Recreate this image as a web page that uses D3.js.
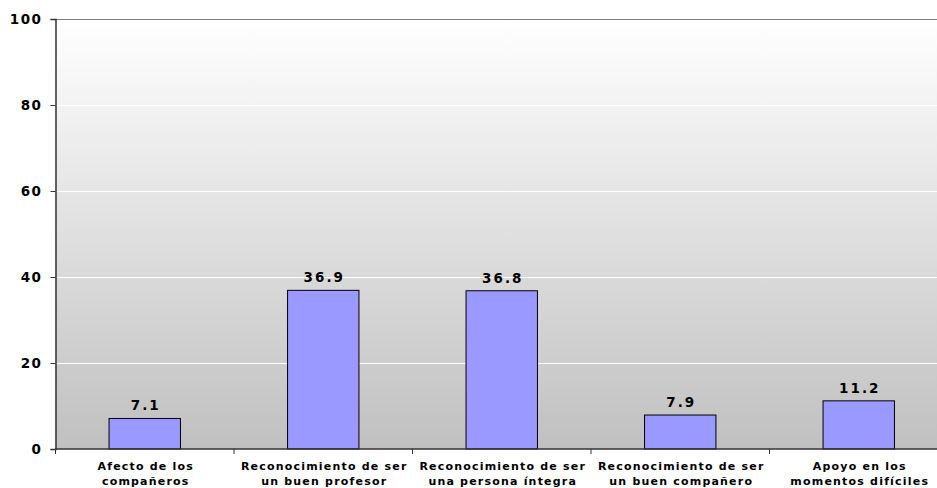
<!DOCTYPE html>
<html><head><meta charset="utf-8">
<script src="https://cdn.jsdelivr.net/npm/d3@7"></script>
<style>body{margin:0;background:#fff}svg{display:block}</style>
</head><body>
<svg id="c" width="937" height="488"></svg>
<script>
const categories = [
  ["Afecto de los", "compañeros"],
  ["Reconocimiento de ser", "un buen profesor"],
  ["Reconocimiento de ser", "una persona íntegra"],
  ["Reconocimiento de ser", "un buen compañero"],
  ["Apoyo en los", "momentos difíciles"]
];
const values = [7.1, 36.9, 36.8, 7.9, 11.2];
const yTicks = [0, 20, 40, 60, 80, 100];

(function(){
const svg = d3.select("#c");
const pL = 55.5, pR = 948, pT = 19, pB = 449;
const font = "'DejaVu Sans', Verdana, sans-serif";

const defs = svg.append("defs");
const grad = defs.append("linearGradient").attr("id","bg").attr("x1",0).attr("y1",0).attr("x2",0).attr("y2",1);
grad.append("stop").attr("offset","0%").attr("stop-color","#ffffff");
grad.append("stop").attr("offset","100%").attr("stop-color","#c0c0c0");

const x = d3.scaleBand().domain(d3.range(categories.length)).range([pL, pR]).paddingInner(0).paddingOuter(0);
const y = d3.scaleLinear().domain([0, 100]).range([pB, pT]);

svg.append("rect").attr("x", pL).attr("y", pT).attr("width", pR-pL).attr("height", pB-pT).attr("fill","url(#bg)");

svg.append("g").selectAll("line").data(yTicks.filter(d=>d>0 && d<100)).join("line")
  .attr("x1", pL).attr("x2", pR).attr("y1", d=>Math.round(y(d))+0.5).attr("y2", d=>Math.round(y(d))+0.5)
  .attr("stroke","#ffffff").attr("stroke-width",1);
svg.append("line").attr("x1",pL).attr("x2",pR).attr("y1",pT+0.5).attr("y2",pT+0.5).attr("stroke","#808080");

const bw = x.bandwidth()*0.4;
svg.append("g").selectAll("rect").data(values).join("rect")
  .attr("x",(d,i)=>x(i)+x.bandwidth()/2-bw/2)
  .attr("y",d=>y(d))
  .attr("width",bw)
  .attr("height",d=>y(0)-y(d))
  .attr("fill","#9999ff").attr("stroke","#000").attr("stroke-width",1);

svg.append("g").selectAll("text").data(values).join("text")
  .attr("x",(d,i)=>x(i)+x.bandwidth()/2+1)
  .attr("y",d=>y(d)-8)
  .attr("text-anchor","middle")
  .attr("font-family",font).attr("font-weight","bold").attr("font-size",13.5)
  .attr("letter-spacing","2px")
  .attr("fill","#000")
  .text(d=>d.toFixed(1));

const yAxis = d3.axisLeft(y).tickValues(yTicks).tickSize(5).tickPadding(8).tickFormat(d3.format("d"));
const gy = svg.append("g").attr("transform",`translate(${pL},0)`).call(yAxis);
gy.select(".domain").attr("stroke","#333").attr("stroke-width",1.5);
gy.selectAll(".tick line").attr("stroke","#333");
gy.selectAll("text").attr("font-family",font).attr("font-weight","bold").attr("font-size",13.5)
  .attr("letter-spacing","1.5px").attr("fill","#000");

const gx = svg.append("g").attr("transform",`translate(0,${pB})`);
gx.append("line").attr("x1",pL).attr("x2",pR).attr("y1",0).attr("y2",0).attr("stroke","#333").attr("stroke-width",1.5);
const bounds = d3.range(categories.length+1).map(i=> i<categories.length ? x(i) : pR);
gx.selectAll(".xt").data(bounds).join("line").attr("class","xt")
  .attr("x1",d=>d).attr("x2",d=>d).attr("y1",0).attr("y2",5).attr("stroke","#333");
const lab = gx.selectAll(".xl").data(categories).join("text").attr("class","xl")
  .attr("text-anchor","middle")
  .attr("font-family",font).attr("font-weight","bold").attr("font-size",11)
  .attr("letter-spacing","1.2px").attr("fill","#000");
lab.each(function(d,i){
  const t = d3.select(this);
  d.forEach((s,j)=>t.append("tspan").attr("x",x(i)+x.bandwidth()/2+1).attr("y",21+j*15).text(s));
});
})();
</script>
</body></html>
